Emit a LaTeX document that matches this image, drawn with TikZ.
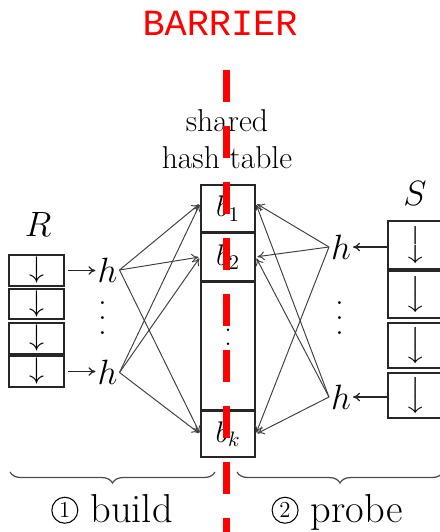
\documentclass[tikz,border=0pt]{standalone}
\usepackage{fix-cm}
\usepackage{amsmath}
\usepackage{fontspec}
\newfontfamily\barfont{Liberation Mono}
\usetikzlibrary{arrows.meta,decorations.pathreplacing,positioning}
\tikzset{
  cell/.style={draw=black!85,line width=0.8pt,inner sep=0pt,minimum width=1.08cm,font=\fontsize{17}{20}\selectfont},
  hnode/.style={inner sep=1pt,font=\fontsize{20}{24}\selectfont},
  dotcol/.style={inner sep=0pt,font=\fontsize{20}{24}\selectfont},
  fan/.style={draw=black!75,line width=0.55pt,-{To[length=4pt,width=5pt]},shorten >=1pt},
  feed/.style={draw=black!85,line width=0.7pt,-{To[length=4pt,width=5pt]}},
  brc/.style={draw=black!70,line width=0.7pt,decorate,decoration={brace,mirror,amplitude=0.22cm}},
  phase/.style={inner sep=0pt,anchor=base,font=\fontsize{23}{27}\selectfont},
}
\newcommand{\stepnum}[1]{\tikz[baseline={([yshift=1pt]c.south)}]\node[draw,circle,line width=0.6pt,inner sep=0pt,minimum size=0.52cm,font=\fontsize{13}{13}\selectfont] (c) {#1};}
\newcommand{\longdown}{$\left\downarrow\vcenter to 0.72cm{}\right.$}
\newcommand{\tallvdots}[1]{\vbox{\baselineskip=#1\lineskiplimit=0pt\hbox{.}\hbox{.}\hbox{.}}}
\begin{document}
\begin{tikzpicture}[x=0.02cm,y=-0.02cm]
  \useasboundingbox (0,0) rectangle (440,532);
  % build side
  \node[hnode] (R) at (38,224) {$R$};
  \foreach \t/\rh [count=\i] in {255/31,289/30,323/31,356/31}{
    \pgfmathsetmacro\yc{\t+\rh/2}
    \node[cell,minimum width=1.1cm,minimum height=\rh*0.02cm] (r\i) at (36.5,\yc) {$\downarrow$};
  }
  \node[hnode] (hl1) at (107.5,270) {$h$};
  \node[hnode] (hl2) at (107.5,372.5) {$h$};
  \node[dotcol] (dl) at (103,318) {\tallvdots{8.3pt}};
  \draw[feed,shorten <=2pt] (r1.east) -- (r1.east -| hl1.west);
  \draw[feed,shorten <=2pt] (r4.east) -- (r4.east -| hl2.west);
  % shared hash table
  \node[font=\fontsize{18}{20.5}\selectfont,align=center,anchor=base,inner sep=0pt] (tbl) at (227,168) {shared\\hash table};
  \node[cell,minimum height=0.94cm] (b1) at (228,208.5) {$b_1$};
  \node[cell,minimum height=0.94cm,below=0pt of b1] (b2) {$b_2$};
  \node[cell,minimum height=2.56cm,below=0pt of b2] (bm) {};
  \node[cell,minimum height=0.92cm,below=0pt of bm] (bk) {$b_k$};
  \node[dotcol,font=\fontsize{17}{20}\selectfont] (dm) at (228,330) {\tallvdots{8pt}};
  % probe side
  \node[hnode] (S) at (415,193) {$S$};
  \foreach \t/\rh [count=\i] in {221/48,271/47,323/45,373/45}{
    \pgfmathsetmacro\yc{\t+\rh/2}
    \node[cell,minimum width=1.16cm,minimum height=\rh*0.02cm] (s\i) at (417,\yc) {\longdown};
  }
  \node[hnode] (hr1) at (341,247) {$h$};
  \node[hnode] (hr2) at (341,397) {$h$};
  \node[dotcol] (dr) at (340,318) {\tallvdots{8.3pt}};
  \draw[feed] (hr1.east -| s1.west) -- (hr1.east);
  \draw[feed] (hr2.east -| s4.west) -- (hr2.east);
  % hashing into buckets
  \foreach \src in {hl1,hl2}{
    \draw[fan] (\src.east) -- ([yshift=3pt]b1.west);
    \draw[fan] (\src.east) -- (b2.west);
    \draw[fan] (\src.east) -- (bk.west);
  }
  \foreach \src in {hr1,hr2}{
    \draw[fan] (\src.west) -- ([yshift=3pt]b1.east);
    \draw[fan] (\src.west) -- (b2.east);
    \draw[fan] (\src.west) -- (bk.east);
  }
  % phases
  \coordinate (bl1) at (10,472);
  \coordinate (bl2) at (215,472);
  \coordinate (pr1) at (237,472);
  \coordinate (pr2) at (443,472);
  \draw[brc] (bl1) -- (bl2);
  \draw[brc] (pr1) -- (pr2);
  \node[phase] (build) at (112,522) {\stepnum{1} build};
  \node[phase] (probe) at (337,522) {\stepnum{2} probe};
  % barrier
  \node[text=red,inner sep=0pt,anchor=base,font=\barfont\fontsize{21}{24}\selectfont] (barrier) at (220,35) {BARRIER};
  \coordinate (bartop) at (226.5,70);
  \coordinate (barbot) at (226.5,532);
  \draw[red,line width=0.14cm,dash pattern=on 0.64cm off 0.48cm] (bartop) -- (barbot);
\end{tikzpicture}
\end{document}
